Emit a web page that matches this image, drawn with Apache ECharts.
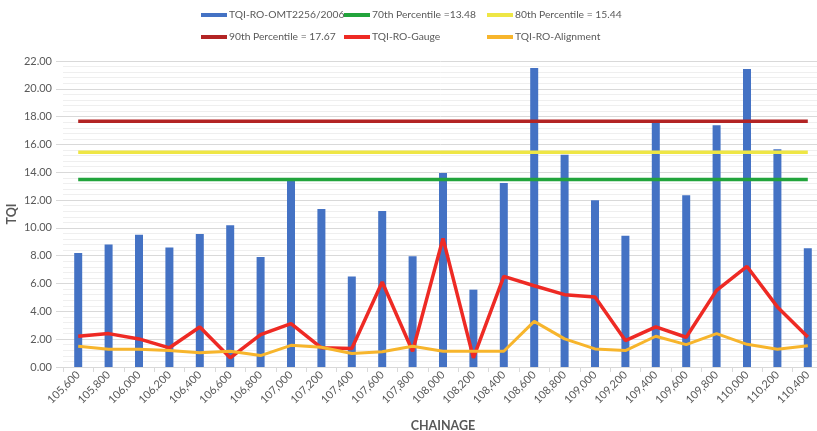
<!DOCTYPE html>
<html><head><meta charset="utf-8">
<script src="https://cdn.jsdelivr.net/npm/echarts@6/dist/echarts.min.js"></script>
<style>html,body{margin:0;padding:0;background:#fff}#c{width:817px;height:431px}</style>
</head><body><div id="c"></div>
<script>
const categories = ['105,600','105,800','106,000','106,200','106,400','106,600','106,800','107,000','107,200','107,400','107,600','107,800','108,000','108,200','108,400','108,600','108,800','109,000','109,200','109,400','109,600','109,800','110,000','110,200','110,400'];
const omtValues = [8.19,8.80,9.50,8.59,9.57,10.19,7.90,13.40,11.36,6.51,11.22,7.97,13.95,5.56,13.23,21.50,15.26,11.98,9.43,17.55,12.34,17.38,21.42,15.66,8.54];
const gaugeValues = [2.21,2.40,2.02,1.38,2.88,0.66,2.33,3.12,1.38,1.33,6.11,1.13,9.25,0.66,6.51,5.84,5.20,5.03,1.90,2.88,2.14,5.51,7.23,4.32,2.16];
const alignmentValues = [1.49,1.28,1.28,1.18,1.02,1.13,0.82,1.56,1.42,0.97,1.09,1.49,1.13,1.13,1.13,3.28,2.02,1.30,1.18,2.21,1.61,2.40,1.63,1.28,1.52];
const p70 = 13.48, p80 = 15.44, p90 = 17.67;
const seriesNames = ['TQI-RO-OMT2256/2006','70th Percentile =13.48','80th Percentile = 15.44','90th Percentile = 17.67','TQI-RO-Gauge','TQI-RO-Alignment'];
const yTicks = {min:0, max:22, interval:2};

const FONT = 'Lato';
const TXT = '#595959';
const colors = ['#4472C4','#22A43C','#EEE645','#B32424','#EE2A24','#F7B52C'];
const legendPos = [[201,10],[344,10],[487,10],[201,32],[344,32],[487,32]];
const legends = seriesNames.map((n,i)=>({
  data:[n], left:legendPos[i][0], top:legendPos[i][1], padding:0,
  icon:'rect', itemWidth:26, itemHeight:4, itemGap:0,
  textStyle:{fontFamily:FONT, fontSize:10.3, color:TXT, padding:[0,0,0,-3]}
}));
const flat = v => categories.map(()=>v);
const chart = echarts.init(document.getElementById('c'), null, {renderer:'canvas'});
chart.setOption({
  animation:false,
  color:colors,
  legend:legends,
  grid:{left:63, top:61, width:760, height:306, containLabel:false, outerBoundsMode:'none'},
  xAxis:{
    type:'category', data:categories, boundaryGap:true,
    name:'CHAINAGE', nameLocation:'middle', nameGap:52, nameMoveOverlap:false,
    nameTextStyle:{fontFamily:FONT, fontSize:12.5, fontWeight:'bold', color:TXT},
    axisLine:{show:true, lineStyle:{color:'#d9d9d9'}},
    axisTick:{show:true, alignWithLabel:false, length:5, lineStyle:{color:'#d9d9d9'}},
    axisLabel:{interval:0, rotate:45, fontFamily:FONT, fontSize:11, color:TXT, margin:6}
  },
  yAxis:{
    type:'value', min:yTicks.min, max:yTicks.max, interval:yTicks.interval,
    name:'TQI', nameLocation:'middle', nameGap:45, nameRotate:90, nameMoveOverlap:false,
    nameTextStyle:{fontFamily:FONT, fontSize:12.5, fontWeight:'bold', color:TXT},
    axisLine:{show:false},
    axisTick:{show:true, length:7, lineStyle:{color:'#d9d9d9'}},
    axisLabel:{formatter:v=>v.toFixed(2), fontFamily:FONT, fontSize:11, color:TXT, margin:11},
    splitLine:{show:true, lineStyle:{color:'#d9d9d9', width:1}},
    minorTick:{show:false, splitNumber:5},
    minorSplitLine:{show:true, lineStyle:{color:'#efefef', width:1}}
  },
  series:[
    {name:seriesNames[0], type:'bar', data:omtValues, barWidth:8, itemStyle:{color:colors[0]}},
    {name:seriesNames[1], type:'line', data:flat(p70), symbol:'none', lineStyle:{width:3.5, color:colors[1]}, itemStyle:{color:colors[1]}},
    {name:seriesNames[2], type:'line', data:flat(p80), symbol:'none', lineStyle:{width:3.5, color:colors[2]}, itemStyle:{color:colors[2]}},
    {name:seriesNames[3], type:'line', data:flat(p90), symbol:'none', lineStyle:{width:3.5, color:colors[3]}, itemStyle:{color:colors[3]}},
    {name:seriesNames[4], type:'line', data:gaugeValues, symbol:'none', lineStyle:{width:3.5, color:colors[4]}, itemStyle:{color:colors[4]}},
    {name:seriesNames[5], type:'line', data:alignmentValues, symbol:'none', lineStyle:{width:3, color:colors[5]}, itemStyle:{color:colors[5]}}
  ]
});
</script></body></html>
